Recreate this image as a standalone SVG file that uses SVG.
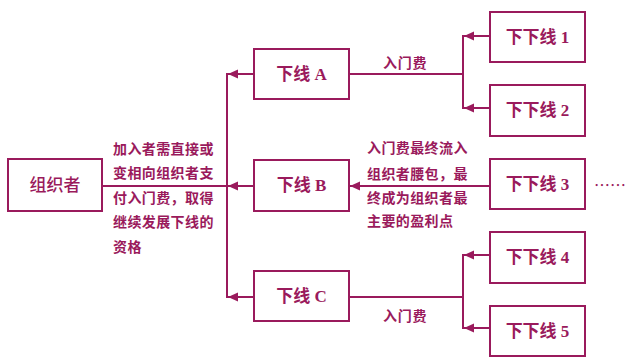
<svg xmlns="http://www.w3.org/2000/svg" width="640" height="363" viewBox="0 0 640 363">
<style>
  .box { fill: #ffffff; stroke: #9a1a5c; stroke-width: 2; }
  .lbl { font-family: "Liberation Serif", "Noto Sans CJK SC", serif; font-size: 17px; font-weight: bold; fill: #9a1a5c; text-anchor: middle; dominant-baseline: central; }
  .note { font-family: "Noto Sans CJK SC", sans-serif; font-size: 14px; font-weight: bold; fill: #9a1a5c; letter-spacing: 0.4px; dominant-baseline: central; }
  .edge { stroke: #9a1a5c; stroke-width: 2; fill: none; }
</style>
<defs>
  <marker id="arr" markerUnits="userSpaceOnUse" markerWidth="10" markerHeight="10" viewBox="0 0 10 10" refX="10" refY="5" orient="auto">
    <path d="M0,0.5 L10,5 L0,9.5 Z" fill="#9a1a5c"/>
  </marker>
</defs>
<rect width="640" height="363" fill="#ffffff"/>

<g id="connectors">
  <line class="edge" x1="102" y1="186" x2="227" y2="186"/>
  <line class="edge" x1="227" y1="73" x2="227" y2="298"/>
  <line class="edge" x1="254" y1="74" x2="228" y2="74" marker-end="url(#arr)"/>
  <line class="edge" x1="254" y1="186" x2="228" y2="186" marker-end="url(#arr)"/>
  <line class="edge" x1="254" y1="297" x2="228" y2="297" marker-end="url(#arr)"/>
  <line class="edge" x1="349" y1="74" x2="463" y2="74"/>
  <line class="edge" x1="463" y1="35" x2="463" y2="109"/>
  <line class="edge" x1="490" y1="36" x2="464" y2="36" marker-end="url(#arr)"/>
  <line class="edge" x1="490" y1="108" x2="464" y2="108" marker-end="url(#arr)"/>
  <line class="edge" x1="490" y1="186" x2="350" y2="186" marker-end="url(#arr)"/>
  <line class="edge" x1="349" y1="297" x2="463" y2="297"/>
  <line class="edge" x1="463" y1="254" x2="463" y2="329"/>
  <line class="edge" x1="490" y1="255" x2="464" y2="255" marker-end="url(#arr)"/>
  <line class="edge" x1="490" y1="328" x2="464" y2="328" marker-end="url(#arr)"/>
</g>

<g id="organizer">
  <rect class="box" x="8" y="159" width="94" height="52"/>
  <text class="lbl" x="55" y="185" style="font-weight:500">组织者</text>
</g>
<g id="lineA">
  <rect class="box" x="254" y="49" width="95" height="50"/>
  <text class="lbl" x="301.5" y="74">下线 A</text>
</g>
<g id="lineB">
  <rect class="box" x="254" y="160" width="95" height="51"/>
  <text class="lbl" x="301.5" y="185.5">下线 B</text>
</g>
<g id="lineC">
  <rect class="box" x="254" y="271" width="95" height="50"/>
  <text class="lbl" x="301.5" y="296">下线 C</text>
</g>
<g id="sub1">
  <rect class="box" x="490" y="12" width="95" height="50"/>
  <text class="lbl" x="537.5" y="37">下下线 1</text>
</g>
<g id="sub2">
  <rect class="box" x="490" y="85" width="95" height="51"/>
  <text class="lbl" x="537.5" y="110.5">下下线 2</text>
</g>
<g id="sub3">
  <rect class="box" x="490" y="159" width="95" height="50"/>
  <text class="lbl" x="537.5" y="184">下下线 3</text>
</g>
<g id="sub4">
  <rect class="box" x="490" y="232" width="95" height="51"/>
  <text class="lbl" x="537.5" y="257.5">下下线 4</text>
</g>
<g id="sub5">
  <rect class="box" x="490" y="306" width="95" height="50"/>
  <text class="lbl" x="537.5" y="331">下下线 5</text>
</g>

<g id="labels">
  <text class="note" x="383" y="62" style="letter-spacing:0.8px">入门费</text>
  <text class="note" x="383" y="315" style="letter-spacing:0.8px">入门费</text>
  <text class="note" x="113" y="148">加入者需直接或</text>
  <text class="note" x="113" y="172">变相向组织者支</text>
  <text class="note" x="113" y="197">付入门费，取得</text>
  <text class="note" x="113" y="221">继续发展下线的</text>
  <text class="note" x="113" y="246">资格</text>
  <text class="note" x="367" y="147">入门费最终流入</text>
  <text class="note" x="367" y="173">组织者腰包，最</text>
  <text class="note" x="367" y="197">终成为组织者最</text>
  <text class="note" x="367" y="220">主要的盈利点</text>
  <text x="594" y="184" style="font-family:'Noto Sans CJK SC',sans-serif;font-size:16px;fill:#9a1a5c;dominant-baseline:central">……</text>
</g>
</svg>
